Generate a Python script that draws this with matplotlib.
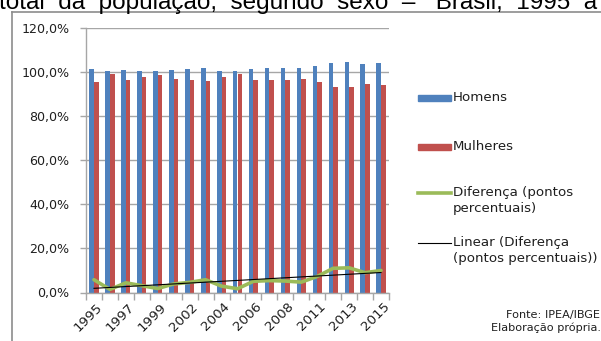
import numpy as np
import matplotlib
matplotlib.use("Agg")
import matplotlib.pyplot as plt
from matplotlib.lines import Line2D
from matplotlib.patches import Rectangle
from matplotlib.ticker import FuncFormatter, FixedLocator

# Razão de sexo da população (%), PNAD
anos = ['1995', '1996', '1997', '1998', '1999', '2001', '2002', '2003', '2004', '2005',
        '2006', '2007', '2008', '2009', '2011', '2012', '2013', '2014', '2015']
homens = [101.5, 100.6, 101.1, 100.8, 100.6, 101.1, 101.5, 102.0, 100.8, 100.6,
          101.5, 101.8, 101.8, 101.8, 102.9, 104.2, 104.6, 103.6, 104.2]
mulheres = [95.6, 99.2, 96.5, 97.7, 98.9, 97.0, 96.7, 96.1, 98.0, 99.1,
            96.5, 96.5, 96.5, 97.0, 95.6, 93.2, 93.2, 94.8, 94.2]
diferenca = [5.8, 1.4, 4.4, 3.1, 1.8, 3.9, 4.6, 5.8, 2.9, 1.7,
             5.1, 5.4, 5.2, 4.7, 7.3, 11.0, 11.2, 9.0, 10.0]

AZUL = '#4F81BD'
VERMELHO = '#C0504D'
VERDE = '#9BBB59'
CINZA = '#A6A6A6'
TEXTO = '#1f1f1f'
FONTE = 'DejaVu Sans'

W, H = 601, 341


def fx(px):
    return px / W


def fy(py):
    return 1 - py / H


fig = plt.figure(figsize=(W / 100, H / 100), dpi=100)
ax = fig.add_axes([fx(86), fy(292.5), fx(389) - fx(86), fy(28.3) - fy(292.5)])

x = np.arange(len(anos))
larg = 0.29
ax.bar(x - larg / 2, homens, width=larg, color=AZUL, zorder=2)
ax.bar(x + larg / 2, mulheres, width=larg, color=VERMELHO, zorder=2)
ax.plot(x, diferenca, color=VERDE, lw=2.6, solid_joinstyle='round',
        solid_capstyle='round', zorder=3)

# tendência linear da diferença
coef = np.polyfit(x, diferenca, 1)
ax.plot(x, np.polyval(coef, x), color='black', lw=0.8, zorder=4)

ax.set_xlim(-0.5, len(anos) - 0.5)
ax.set_ylim(0, 120)
ax.set_yticks(np.arange(0, 121, 20))
ax.yaxis.set_major_formatter(FuncFormatter(lambda v, p: f'{v:.1f}%'.replace('.', ',')))
ax.yaxis.grid(True, color=CINZA, lw=1.0, zorder=0)
ax.set_axisbelow(True)

# ticks nas divisões entre categorias, rótulos ano sim ano não
ax.xaxis.set_major_locator(FixedLocator(np.arange(-0.5, len(anos), 1)))
ax.set_xticklabels([])
ax.tick_params(axis='x', length=5, color=CINZA, width=1)
ax.tick_params(axis='y', length=4, color=CINZA, width=1, pad=8,
               labelsize=9.1, labelcolor=TEXTO)
for lbl in ax.get_yticklabels():
    lbl.set_fontfamily(FONTE)
for i in range(0, len(anos), 2):
    ax.text(i + 0.4, -5.6, anos[i], rotation=45, rotation_mode='anchor',
            ha='right', va='center', fontsize=9.6, family=FONTE, color=TEXTO,
            transform=ax.transData)

for s in ['top', 'right']:
    ax.spines[s].set_visible(False)
for s in ['left', 'bottom']:
    ax.spines[s].set_color(CINZA)
    ax.spines[s].set_linewidth(1)

# legenda
leg_x0, leg_x1, txt_x = 418, 451, 453
fig.add_artist(Rectangle((fx(leg_x0), fy(101)), fx(leg_x1) - fx(leg_x0), fy(95) - fy(101),
                         color=AZUL, transform=fig.transFigure))
fig.add_artist(Rectangle((fx(leg_x0), fy(150)), fx(leg_x1) - fx(leg_x0), fy(144) - fy(150),
                         color=VERMELHO, transform=fig.transFigure))
fig.add_artist(Line2D([fx(leg_x0), fx(leg_x1)], [fy(193), fy(193)], color=VERDE, lw=2.6,
                      transform=fig.transFigure))
fig.add_artist(Line2D([fx(leg_x0), fx(leg_x1)], [fy(243), fy(243)], color='black', lw=0.8,
                      transform=fig.transFigure))
legenda = [('Homens', 98), ('Mulheres', 147),
           ('Diferença (pontos\npercentuais)', 193),
           ('Linear (Diferença\n(pontos percentuais))', 243)]
for txt, py in legenda:
    fig.text(fx(txt_x), fy(py - 7), txt, ha='left', va='top', fontsize=9.6,
             family=FONTE, color=TEXTO, linespacing=1.3)

fig.text(fx(600), fy(315), 'Fonte: IPEA/IBGE', ha='right', va='center',
         fontsize=8.1, family=FONTE, color=TEXTO)
fig.text(fx(601), fy(328), 'Elaboração própria.', ha='right', va='center',
         fontsize=8.1, family=FONTE, color=TEXTO)

# moldura do gráfico
fig.add_artist(Line2D([fx(12), fx(12)], [fy(11.5), 0], color='#8C8C8C', lw=1.2,
                      transform=fig.transFigure))
fig.add_artist(Line2D([fx(12), 1], [fy(11.5), fy(11.5)], color='#8C8C8C', lw=1.2,
                      transform=fig.transFigure))

# linha de texto do documento acima do gráfico
fig.text(fx(-1), fy(8.5), 'total  da  população,  segundo  sexo  –   Brasil,  1995  a',
         ha='left', va='baseline', fontsize=17.5, family='Liberation Sans', color='black')

fig.savefig('out.png', dpi=100)
